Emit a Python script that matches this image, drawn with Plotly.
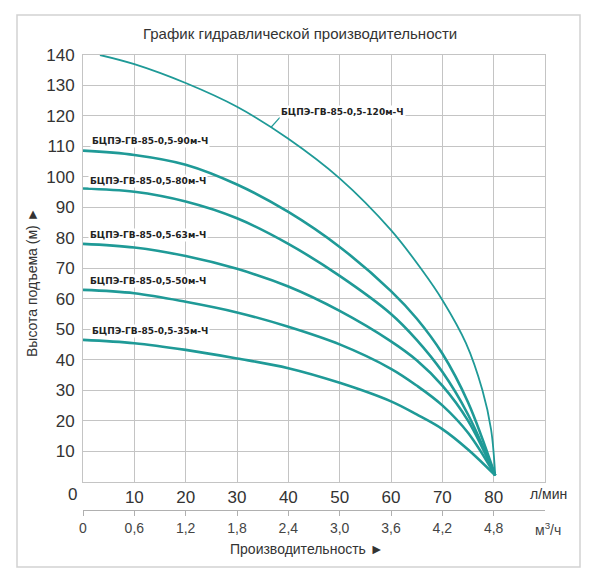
import plotly.graph_objects as go

# подача, л/мин  /  напор, м
q_120 = [3.3, 10, 20, 30, 40, 50, 60, 66, 70, 74.6, 77.8, 79.5, 80.3]
h_120 = [140, 137, 130.8, 123, 112.5, 99.5, 82.5, 69.5, 59.6, 45.4, 30, 17, 2]

q_90 = [0, 10, 20, 30, 40, 50, 60, 65, 70, 75, 80.3]
h_90 = [108.6, 107.2, 104, 97.5, 88.5, 77, 62.5, 53.5, 42, 26, 2]

q_80 = [0, 10, 20, 30, 40, 50, 60, 65, 70, 75, 80.3]
h_80 = [96.2, 95.1, 91.9, 86.4, 78, 67.5, 55, 46.5, 36, 22, 2]

q_63 = [0, 10, 20, 30, 40, 50, 60, 65, 70, 75, 80.3]
h_63 = [78, 76.8, 74, 69.8, 64, 56, 46, 39.8, 31.5, 20, 2]

q_50 = [0, 10, 20, 30, 40, 50, 60, 65, 70, 75, 80.3]
h_50 = [62.9, 61.8, 59, 55.5, 50.8, 45, 37, 31.5, 25, 16, 2]

q_35 = [0, 10, 20, 30, 40, 50, 60, 65, 70, 75, 80.3]
h_35 = [46.5, 45.4, 43.2, 40.4, 37.2, 32.4, 26.3, 22, 17.2, 10.5, 2]

models = ["БЦПЭ-ГВ-85-0,5-120м-Ч", "БЦПЭ-ГВ-85-0,5-90м-Ч", "БЦПЭ-ГВ-85-0,5-80м-Ч",
          "БЦПЭ-ГВ-85-0,5-63м-Ч", "БЦПЭ-ГВ-85-0,5-50м-Ч", "БЦПЭ-ГВ-85-0,5-35м-Ч"]
curves = [(q_120, h_120), (q_90, h_90), (q_80, h_80),
          (q_63, h_63), (q_50, h_50), (q_35, h_35)]
# где стоит подпись (л/мин, м)
label_pos = [(38.2, 121.4), (1.4, 111.8), (0.9, 98.7), (0.9, 81.0), (0.9, 65.7), (1.3, 49.4)]

lpm_ticks = [10, 20, 30, 40, 50, 60, 70, 80]
m3h_ticks = [0, 0.6, 1.2, 1.8, 2.4, 3.0, 3.6, 4.2, 4.8]
m3h_text = ["0", "0,6", "1,2", "1,8", "2,4", "3,0", "3,6", "4,2", "4,8"]
head_ticks = list(range(10, 150, 10))

TEAL = "#1f9a97"
GRID = "#c4c4c4"
TXT = "#333333"
FONT = "Liberation Sans, Arial, sans-serif"

# страница сдвигает рисунок на 8px (отступ body), поэтому всё считаем с поправкой
OFF = 8
W, H = 592, 572
ML, MR, MT, MB = 75, 55, 47, 58


def px(x):
    return (x - OFF - ML) / (W - ML - MR)


def py(y):
    return (H - MB - (y - OFF)) / (H - MT - MB)


fig = go.Figure()
for i, (q, h) in enumerate(curves):
    fig.add_trace(go.Scatter(
        x=q, y=h, mode="lines", line_shape="spline",
        line=dict(color=TEAL, width=1.8 if i == 0 else 2.6),
        name=models[i], showlegend=False, hoverinfo="x+y"
    ))

ann = []
for name, (lx, ly) in zip(models, label_pos):
    ann.append(dict(x=lx, y=ly, xref="x", yref="y", text=name, showarrow=False,
                    xanchor="left", yanchor="middle", bgcolor="white", borderpad=1,
                    font=dict(family="DejaVu Sans", size=9, color="#222222", weight="bold")))


def paper_text(x, y, text, size, angle=0, color=TXT):
    return dict(x=px(x), y=py(y), xref="paper", yref="paper", showarrow=False,
                xanchor="center", yanchor="middle", textangle=angle, text=text,
                font=dict(family=FONT, size=size, color=color))


ann += [
    paper_text(300, 33, "График гидравлической производительности", 15),
    paper_text(32, 283, "Высота подъема (м) ►", 14, angle=-90),
    paper_text(307, 549, "Производительность ►", 14),
    paper_text(72, 494, "0", 17),
    paper_text(548, 494, "л/мин", 14),
    paper_text(548, 529, "м<sup>3</sup>/ч", 14, color="#444444"),
]

shapes = [
    # выноска к кривой 120 м
    dict(type="line", xref="x", yref="y", x0=38.4, y0=119.6, x1=36.6, y1=116.2,
         line=dict(color=TEAL, width=1.2)),
    # рамка вокруг рисунка
    dict(type="rect", xref="paper", yref="paper", x0=px(17), x1=px(580), y0=py(567), y1=py(15),
         line=dict(color="#d2d2d2", width=1.5), layer="below"),
]

fig.update_layout(
    width=W, height=H, margin=dict(l=ML, r=MR, t=MT, b=MB),
    paper_bgcolor="white", plot_bgcolor="white",
    font=dict(family=FONT, color=TXT),
    annotations=ann, shapes=shapes,
    xaxis=dict(range=[0, 90], tickvals=lpm_ticks, showgrid=True, gridcolor=GRID, gridwidth=1,
               showline=True, linecolor=GRID, linewidth=1, mirror=True, zeroline=False,
               ticks="", tickfont=dict(size=17, color=TXT), anchor="y"),
    xaxis2=dict(range=[0, 5.4], tickvals=m3h_ticks, ticktext=m3h_text, overlaying="x",
                anchor="free", position=py(510), side="bottom", showgrid=False, zeroline=False,
                showline=True, linecolor="#b0b0b0", linewidth=1, ticks="outside", ticklen=5,
                tickcolor="#b0b0b0", tickfont=dict(size=14, color="#444444")),
    yaxis=dict(range=[0, 140], tickvals=head_ticks, domain=[py(481.5), 1], showgrid=True,
               gridcolor=GRID, gridwidth=1, showline=True, linecolor=GRID, linewidth=1,
               mirror=True, zeroline=False, ticks="", ticklabelstandoff=4,
               tickfont=dict(size=17, color=TXT)),
)
# невидимая трасса, чтобы ось м³/ч отрисовалась
fig.add_trace(go.Scatter(x=[0], y=[0], xaxis="x2", mode="markers",
                         marker=dict(opacity=0), showlegend=False, hoverinfo="skip"))

fig.write_html("out.html")
